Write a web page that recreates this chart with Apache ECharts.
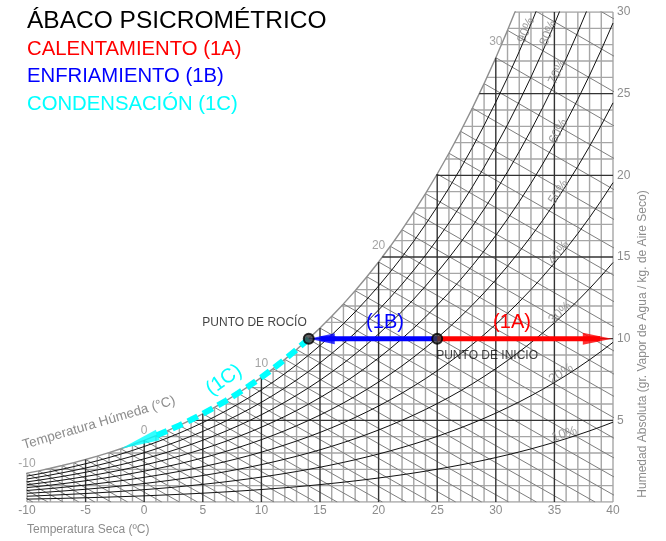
<!DOCTYPE html>
<html>
<head>
<meta charset="utf-8">
<script src="https://cdn.jsdelivr.net/npm/echarts@6/dist/echarts.min.js"></script>
<style>
  html, body { margin: 0; padding: 0; background: #ffffff; }
  #chart { width: 666px; height: 541px; }
</style>
</head>
<body>
<div id="chart"></div>
<script>
// ---- Psychrometric data (sea level) ----
// Saturation humidity, g of water vapour per kg of dry air, at each whole degree C
const satTemps = [-13,-12,-11,-10,-9,-8,-7,-6,-5,-4,-3,-2,-1,0,1,2,3,4,5,6,7,8,9,10,11,12,13,14,15,16,17,18,19,20,21,22,23,24,25,26,27,28,29,30,31,32,33,34,35,36,37,38,39,40];
const satHumidity = [1.388,1.505,1.631,1.764,1.909,2.066,2.233,2.412,2.602,2.806,3.025,3.258,3.506,3.775,4.060,4.364,4.688,5.034,5.403,5.793,6.212,6.657,7.129,7.631,8.165,8.732,9.333,9.972,10.649,11.367,12.128,12.937,13.790,14.696,15.656,16.670,17.745,18.880,20.081,21.353,22.696,24.116,25.616,27.202,28.876,30.645,32.514,34.488,36.570,38.771,41.094,43.545,46.138,48.874];

// Grid lines: dry-bulb temperatures and absolute humidities
const tempLines = [-10,-9,-8,-7,-6,-5,-4,-3,-2,-1,0,1,2,3,4,5,6,7,8,9,10,11,12,13,14,15,16,17,18,19,20,21,22,23,24,25,26,27,28,29,30,31,32,33,34,35,36,37,38,39,40];
const humidityLines = [0,1,2,3,4,5,6,7,8,9,10,11,12,13,14,15,16,17,18,19,20,21,22,23,24,25,26,27,28,29,30];
// Wet-bulb temperature lines
const wetBulbTemps = [-13,-12,-11,-10,-9,-8,-7,-6,-5,-4,-3,-2,-1,0,1,2,3,4,5,6,7,8,9,10,11,12,13,14,15,16,17,18,19,20,21,22,23,24,25,26,27,28,29,30,31,32,33];
const wetBulbLabels = [-10, 0, 10, 20, 30];
// Relative humidity curves (% of saturation)
const rhLevels = [10, 20, 30, 40, 50, 60, 70, 80, 90];

// Axis ticks
const xTicks = [-10, -5, 0, 5, 10, 15, 20, 25, 30, 35, 40];
const yTicks = [0, 5, 10, 15, 20, 25, 30];

// Process: start state, heating end, condensation end
const startState = [25, 10];       // [dry-bulb °C, g/kg]
const heatingEndTemp = 39.9;
const condensationEndTemp = -2;
const condensationDashEnd = 1;

// ---- Layout / style settings ----
const FONT = '"Liberation Sans", Arial, sans-serif';
const GRAY_TEXT = '#8c8c8c';
const placement = {
  rhLabelTemps: [36.1, 35.95, 35.9, 35.8, 35.75, 35.7, 35.6, 34.8, 32.9],
  rhLabelLift: 5,
  wetBulbLabelGap: [3, 3, 7, 10, 10]
};

function satAt(T) {
  const n = satTemps.length;
  let i = Math.floor(T - satTemps[0]);
  i = Math.max(0, Math.min(n - 2, i));
  const f = (T - satTemps[i]) / (satTemps[i + 1] - satTemps[i]);
  return satHumidity[i] + f * (satHumidity[i + 1] - satHumidity[i]);
}
function dewAt(W) {
  if (W <= satHumidity[0]) return satTemps[0];
  for (let i = 0; i < satHumidity.length - 1; i++) {
    if (W <= satHumidity[i + 1]) {
      const f = (W - satHumidity[i]) / (satHumidity[i + 1] - satHumidity[i]);
      return satTemps[i] + f * (satTemps[i + 1] - satTemps[i]);
    }
  }
  return satTemps[satTemps.length - 1];
}

function lineSeries(points, color, width, z, extra) {
  return Object.assign({
    type: 'line', data: points, symbol: 'none', showSymbol: false,
    silent: true, animation: false, z: z,
    lineStyle: { color: color, width: width },
    emphasis: { disabled: true }
  }, extra || {});
}

function buildSeries(px) {
  const series = [];
  // vertical dry-bulb lines up to saturation
  tempLines.forEach(T => {
    const major = T % 5 === 0 && T > -10 && T < 40;
    const top = Math.min(satAt(T), 30);
    series.push(lineSeries([[T, 0], [T, top]], major ? '#333333' : '#a6a6a6', 1.4, major ? 4 : 1));
  });
  // horizontal humidity lines from saturation to the right edge
  humidityLines.forEach(W => {
    const major = W % 5 === 0 && W > 0 && W < 30;
    const start = Math.max(dewAt(W), -10);
    series.push(lineSeries([[start, W], [40, W]], major ? '#333333' : '#a6a6a6', 1.4, major ? 4 : 1));
  });
  // wet-bulb lines
  wetBulbTemps.forEach(t => {
    const ws = satAt(t);
    const t0 = t + (2501 - 2.326 * t) * ws / 1006;
    series.push(lineSeries([[t, ws], [t0, 0]], '#7d7d7d', 1, 2));
  });
  // relative humidity curves
  rhLevels.forEach(p => {
    const pts = satTemps.filter(T => T >= -10).map(T => [T, p / 100 * satAt(T)]);
    series.push(lineSeries(pts, '#111111', 1, 5));
  });
  // saturation curve
  series.push(lineSeries(satTemps.filter(T => T <= 33).map(T => [T, satAt(T)]), '#8f8f8f', 1.4, 3));

  const W0 = startState[1];
  const dewT = dewAt(W0);

  // heating (1A)
  series.push(lineSeries([[startState[0], W0], [heatingEndTemp - 1, W0]], '#ff0000', 5, 20));
  // cooling (1B)
  series.push(lineSeries([[startState[0], W0], [dewT + 1, W0]], '#0000ff', 5, 20));
  // condensation (1C) along saturation
  const condPts = [[dewT, W0]];
  satTemps.filter(T => T < dewT && T >= condensationDashEnd).reverse().forEach(T => condPts.push([T, satAt(T)]));
  series.push(lineSeries(condPts, '#00ffff', 6, 20, { lineStyle: { color: '#00ffff', width: 6, type: [11, 6], cap: 'butt' } }));

  // arrowheads
  const heads = [
    { value: [heatingEndTemp, W0], symbol: 'path://M0,0 L30,6 L0,12 Z', symbolSize: [29, 12],
      symbolOffset: ['-50%', 0], itemStyle: { color: '#ff0000' } },
    { value: [dewT, W0], symbol: 'path://M30,0 L0,6 L30,12 Z', symbolSize: [26, 11],
      symbolOffset: ['50%', 0], itemStyle: { color: '#0000ff' } }
  ];
  if (px) {
    const tip = px([condensationEndTemp, satAt(condensationEndTemp)]);
    const base = px([condensationDashEnd, satAt(condensationDashEnd)]);
    const dx = base[0] - tip[0], dy = tip[1] - base[1];
    const len = Math.hypot(dx, dy) + 2;
    const ang = Math.atan2(dy, dx);
    heads.push({ value: [condensationEndTemp, satAt(condensationEndTemp)], symbol: 'path://M30,0 L0,6 L30,12 Z',
      symbolSize: [len, 11], symbolRotate: ang * 180 / Math.PI,
      symbolOffset: [len / 2 * Math.cos(ang), -len / 2 * Math.sin(ang)], itemStyle: { color: '#00ffff' } });
  }
  series.push({ type: 'scatter', data: heads, silent: true, animation: false, z: 22, clip: false });

  // state points
  series.push({
    type: 'scatter', silent: true, animation: false, z: 25, clip: false,
    symbol: 'circle', symbolSize: 10,
    itemStyle: { color: '#3a3a3a', borderColor: '#000000', borderWidth: 2 },
    data: [
      { value: [startState[0], W0], label: { show: true, formatter: 'PUNTO DE INICIO', position: 'bottom', align: 'left', distance: 5, offset: [-1, 0], color: '#111', fontSize: 12, fontFamily: FONT } },
      { value: [dewT, W0], label: { show: true, formatter: 'PUNTO DE ROCÍO', position: 'top', align: 'right', distance: 4, offset: [-2, 0], color: '#111', fontSize: 12, fontFamily: FONT } }
    ]
  });

  // wet-bulb labels on the saturation curve
  series.push({
    type: 'scatter', silent: true, animation: false, z: 8, clip: false,
    symbol: 'circle', symbolSize: 1, itemStyle: { color: 'rgba(0,0,0,0)' },
    data: wetBulbLabels.map((t, i) => ({
      value: [t, satAt(t)],
      label: { show: true, formatter: String(t), position: 'top', distance: placement.wetBulbLabelGap[i], color: GRAY_TEXT, fontSize: 12, fontFamily: FONT }
    }))
  });

  // relative humidity labels along their curves
  if (px) {
    series.push({
      type: 'scatter', silent: true, animation: false, z: 8, clip: false,
      symbol: 'circle', symbolSize: 1, itemStyle: { color: 'rgba(0,0,0,0)' },
      data: rhLevels.map((p, i) => {
        const T = placement.rhLabelTemps[i];
        const a = px([T - 0.4, p / 100 * satAt(T - 0.4)]);
        const b = px([T + 0.4, p / 100 * satAt(T + 0.4)]);
        const ang = Math.atan2(a[1] - b[1], b[0] - a[0]);
        const d = placement.rhLabelLift;
        return {
          value: [T, p / 100 * satAt(T)],
          label: { show: true, formatter: p + '%', position: 'inside', rotate: ang * 180 / Math.PI,
            offset: [-Math.sin(ang) * d, -Math.cos(ang) * d], color: '#858585', fontSize: 13, fontFamily: FONT }
        };
      })
    });
  }
  return series;
}

function textEl(text, x, y, size, color, opts) {
  return Object.assign({
    type: 'text', x: x, y: y, silent: true, z: 30,
    style: Object.assign({ text: text, fill: color, font: size + 'px ' + FONT, align: 'left', verticalAlign: 'middle' }, (opts && opts.style) || {})
  }, (opts && opts.el) || {});
}

const graphic = [
  textEl('ÁBACO PSICROMÉTRICO', 27, 21, 24.5, '#000000'),
  textEl('CALENTAMIENTO (1A)', 27, 49, 20.3, '#ff0000'),
  textEl('ENFRIAMIENTO (1B)', 27, 76, 20.3, '#0000ff'),
  textEl('CONDENSACIÓN (1C)', 27, 104, 20.3, '#00ffff'),
  textEl('(1A)', 512, 322, 20, '#ff0000', { style: { align: 'center' } }),
  textEl('(1B)', 385, 322, 20, '#0000ff', { style: { align: 'center' } }),
  textEl('(1C)', 224, 380, 20, '#00ffff', { style: { align: 'center' }, el: { rotation: 35 * Math.PI / 180 } }),
  textEl('Temperatura Húmeda (°C)', 99, 423, 13.5, GRAY_TEXT, { style: { align: 'center' }, el: { rotation: 16.5 * Math.PI / 180 } }),
  textEl('Temperatura Seca (ºC)', 27, 530, 12, GRAY_TEXT),
  textEl('Humedad Absoluta (gr. Vapor de Agua / kg. de Aire Seco)', 643, 344, 12, GRAY_TEXT, { style: { align: 'center' }, el: { rotation: Math.PI / 2 } })
];

function makeOption(px) {
  return {
    animation: false,
    backgroundColor: '#ffffff',
    grid: { left: 27, top: 12, width: 586, height: 490, containLabel: false },
    xAxis: {
      type: 'value', min: xTicks[0], max: xTicks[xTicks.length - 1], interval: 5,
      axisLine: { show: false }, axisTick: { show: false }, splitLine: { show: false },
      axisLabel: { color: GRAY_TEXT, fontSize: 12, fontFamily: FONT, margin: 3,
        formatter: v => xTicks.indexOf(v) >= 0 ? String(v) : '' }
    },
    yAxis: {
      type: 'value', position: 'right', min: yTicks[0], max: yTicks[yTicks.length - 1], interval: 5,
      axisLine: { show: false }, axisTick: { show: false }, splitLine: { show: false },
      axisLabel: { color: GRAY_TEXT, fontSize: 12, fontFamily: FONT, margin: 4,
        formatter: v => (v === 0 ? '' : String(v)) }
    },
    graphic: graphic,
    series: buildSeries(px)
  };
}

const chart = echarts.init(document.getElementById('chart'), null, { renderer: 'canvas' });
chart.setOption(makeOption(null));
const toPixel = p => chart.convertToPixel({ gridIndex: 0 }, p);
chart.setOption(makeOption(toPixel), true);
</script>
</body>
</html>
